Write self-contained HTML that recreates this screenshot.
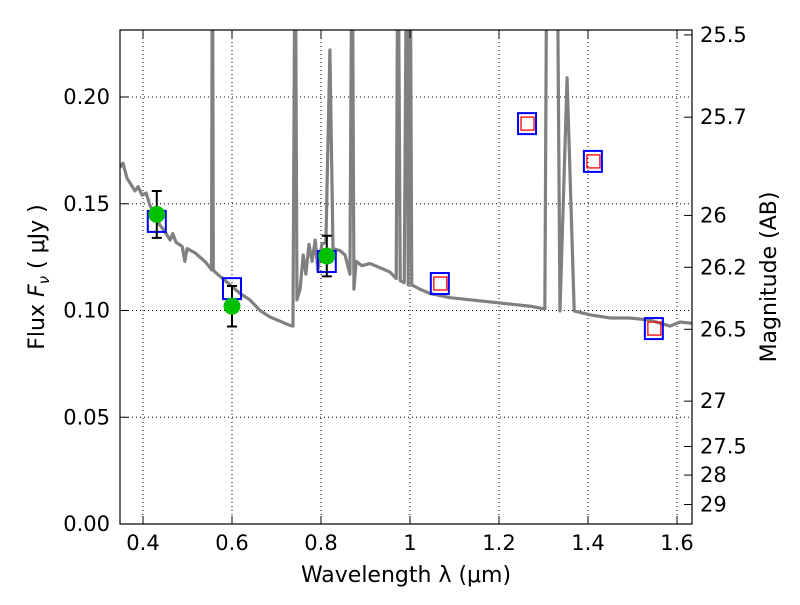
<!DOCTYPE html>
<html><head><meta charset="utf-8"><style>
body{margin:0;background:#fff}
svg text{font-family:"DejaVu Sans","Liberation Sans",sans-serif;fill:#000}
</style></head><body>
<svg id="chart" width="800" height="600" xmlns="http://www.w3.org/2000/svg">
<defs><clipPath id="clip"><rect x="120" y="30" width="572" height="494"/></clipPath></defs>
<rect x="0" y="0" width="800" height="600" fill="#fff"/>
<g id="grid"></g>
<g id="spec" clip-path="url(#clip)"></g>
<g id="marks" clip-path="url(#clip)"></g>
<rect x="120" y="30" width="572" height="494" fill="none" stroke="#000" stroke-width="1.2"/>
<g id="axes"></g>
<text x="406" y="582" font-size="22" text-anchor="middle">Wavelength  λ (μm)</text>
<text transform="translate(44,277) rotate(-90)" font-size="22" text-anchor="middle">Flux  <tspan font-style="italic">F</tspan><tspan font-size="15" font-style="italic" dy="5">ν</tspan><tspan dy="-5">  ( μJy )</tspan></text>
<text transform="translate(776,277) rotate(-90)" font-size="22" text-anchor="middle">Magnitude (AB)</text>
</svg>
<script>
const specLam=[.348,.355,.364,.373,.382,.389,.398,.407,.416,.427,.438,.449,.461,.467,.474,.488,.494,.499,.517,.528,.539,.551,.554,.556,.558,.562,.573,.596,.618,.640,.663,.685,.708,.730,.737,.742,.746,.753,.760,.766,.773,.780,.787,.793,.802,.811,.820,.827,.843,.854,.865,.870,.874,.879,.892,.910,.933,.955,.969,.973,.978,.987,.993,.996,1.0,1.004,1.022,1.045,1.067,1.090,1.135,1.180,1.225,1.270,1.303,1.308,1.330,1.337,1.353,1.369,1.404,1.449,1.494,1.539,1.584,1.607,1.634];
const specFlux=[.167,.169,.162,.159,.156,.158,.154,.155,.149,.145,.140,.137,.133,.136,.132,.130,.123,.129,.127,.125,.123,.120,.119,.3,.119,.118,.116,.112,.108,.105,.100,.097,.095,.093,.0927,.3,.105,.110,.126,.117,.131,.123,.133,.119,.131,.132,.222,.129,.128,.126,.117,.3,.110,.123,.121,.122,.120,.118,.115,.3,.114,.113,.3,.112,.3,.112,.110,.108,.107,.106,.105,.104,.103,.102,.1007,.3,.3,.0998,.209,.0998,.098,.0965,.0965,.0955,.0927,.0946,.094];
const obsLam=[.431,.600,.813];
const obsFlux=[.145,.102,.1255];
const obsErr=[.011,.0095,.0095];
const modLam=[.431,.600,.813,1.067,1.263,1.411,1.548];
const modFlux=[.1415,.110,.1227,.1124,.1873,.1696,.0913];
const redLam=[1.067,1.263,1.411,1.548];
const redFlux=[.1124,.1873,.1696,.0913];
const xTicks=[0.4,0.6,0.8,1.0,1.2,1.4,1.6];
const xTickLabels=["0.4","0.6","0.8","1","1.2","1.4","1.6"];
const yTicks=[0,0.05,0.10,0.15,0.20];
const yTickLabels=["0.00","0.05","0.10","0.15","0.20"];
const magTicks=[25.5,25.7,26,26.2,26.5,27,27.5,28,29];
const magLabels=["25.5","25.7","26","26.2","26.5","27","27.5","28","29"];

const X=l=>143+(l-0.4)*445;
const Y=f=>524-f*2135;
const NS="http://www.w3.org/2000/svg";
function mk(tag,attrs,parent){const e=document.createElementNS(NS,tag);for(const k in attrs)e.setAttribute(k,attrs[k]);document.getElementById(parent).appendChild(e);return e;}

xTicks.forEach((t,i)=>{
  const g=mk('line',{x1:X(t),x2:X(t),y1:30,y2:524,stroke:'#000','stroke-width':1,'stroke-dasharray':'1,3'},'grid');
  
  
  mk('line',{x1:X(t),x2:X(t),y1:524,y2:516,stroke:'#000'},'axes');
  mk('line',{x1:X(t),x2:X(t),y1:30,y2:38,stroke:'#000'},'axes');
  const tx=mk('text',{x:X(t),y:550,'font-size':21,'text-anchor':'middle'},'axes');
  tx.textContent=xTickLabels[i];
  
  
});
yTicks.forEach((t,i)=>{
  const g=mk('line',{x1:120,x2:692,y1:Y(t),y2:Y(t),stroke:'#000','stroke-width':1,'stroke-dasharray':'1,3'},'grid');
  
  
  mk('line',{x1:120,x2:128,y1:Y(t),y2:Y(t),stroke:'#000'},'axes');
  const tx=mk('text',{x:110,y:Y(t)+7,'font-size':21,'text-anchor':'end'},'axes');
  tx.textContent=yTickLabels[i];
  
  
});
magTicks.forEach((m,i)=>{
  const y=Y(Math.pow(10,(23.9-m)/2.5));
  mk('line',{x1:684,x2:692,y1:y,y2:y,stroke:'#000'},'axes');
  const tx=mk('text',{x:700,y:y+7,'font-size':21},'axes');
  tx.textContent=magLabels[i];
  
  
});
const sp=mk('polyline',{points:specLam.map((l,i)=>X(l)+','+Y(specFlux[i])).join(' '),fill:'none',stroke:'#808080','stroke-width':3.2,'stroke-linejoin':'round'},'spec');


modLam.forEach((l,i)=>{
  const r=mk('rect',{x:X(l)-9,y:Y(modFlux[i])-11,width:18,height:21,fill:'none',stroke:'#0000ff','stroke-width':2},'marks');
  
  
});
redLam.forEach((l,i)=>{
  const r=mk('rect',{x:X(l)-6,y:Y(redFlux[i])-7,width:13,height:13,fill:'none',stroke:'#ff0000','stroke-width':1.3},'marks');
  
  
});
obsLam.forEach((l,i)=>{
  const x=X(l),y1=Y(obsFlux[i]+obsErr[i]),y2=Y(obsFlux[i]-obsErr[i]);
  const e=mk('path',{d:`M${x},${y1}V${y2}M${x-5},${y1}H${x+5}M${x-5},${y2}H${x+5}`,stroke:'#000','stroke-width':2,fill:'none'},'marks');
  
  
  const c=mk('circle',{cx:x,cy:Y(obsFlux[i]),r:8.5,fill:'#00c000'},'marks');
  
  
});
</script>
</body></html>
